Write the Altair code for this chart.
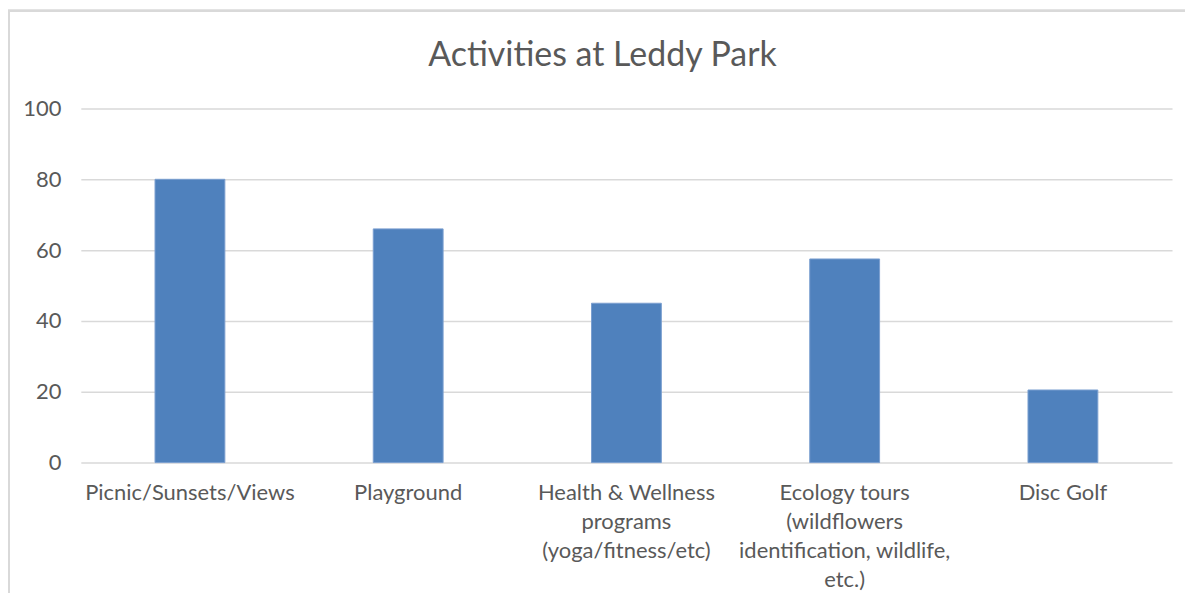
import altair as alt
import pandas as pd

categories = [
    "Picnic/Sunsets/Views",
    "Playground",
    "Health & Wellness|programs|(yoga/fitness/etc)",
    "Ecology tours|(wildflowers|identification, wildlife,|etc.)",
    "Disc Golf",
]
values = [80, 66, 45, 57.5, 20.5]
y_ticks = [0, 20, 40, 60, 80, 100]

df = pd.DataFrame({"activity": categories, "value": values})

FONT = "Lato"
GREY = "#595959"

bars = alt.Chart(df).mark_bar(color="#4f81bd", stroke="#7a9fd0", strokeWidth=1).encode(
    x=alt.X(
        "activity:N",
        sort=None,
        title=None,
        scale=alt.Scale(paddingInner=0.68, paddingOuter=0.34),
        axis=alt.Axis(
            labelExpr="split(datum.value, '|')",
            labelAngle=0,
            labelFont=FONT,
            labelFontSize=22,
            labelColor=GREY,
            labelLineHeight=29,
            labelPadding=20,
            labelBaseline="top",
            labelLimit=400,
            ticks=False,
            domain=False,
            grid=False,
        ),
    ),
    y=alt.Y(
        "value:Q",
        title=None,
        scale=alt.Scale(domain=[0, 100]),
        axis=alt.Axis(
            values=y_ticks,
            labelFont=FONT,
            labelFontSize=22,
            labelColor=GREY,
            labelPadding=20,
            ticks=False,
            domain=False,
            grid=True,
            gridColor="#d9d9d9",
            gridWidth=1.5,
        ),
    ),
)

border = alt.Chart(df).mark_rect(
    fill=None, stroke="#d9d9d9", strokeWidth=2
).encode(
    x=alt.value(-72), x2=alt.value(1200), y=alt.value(-98), y2=alt.value(600)
)

chart = alt.layer(border, bars).properties(
    width=1094,
    height=355,
    padding={"left": 73, "top": 100, "right": 13, "bottom": 130},
    autosize=alt.AutoSizeParams(type="none"),
    title=alt.TitleParams(
        "Activities at Leddy Park",
        font=FONT,
        fontSize=34,
        fontWeight="normal",
        color=GREY,
        anchor="middle",
        baseline="alphabetic",
        dx=-24,
        dy=90,
        offset=0,
    ),
).configure_view(stroke=None)

chart.save("out.html", embed_options={"renderer": "svg", "actions": False})
